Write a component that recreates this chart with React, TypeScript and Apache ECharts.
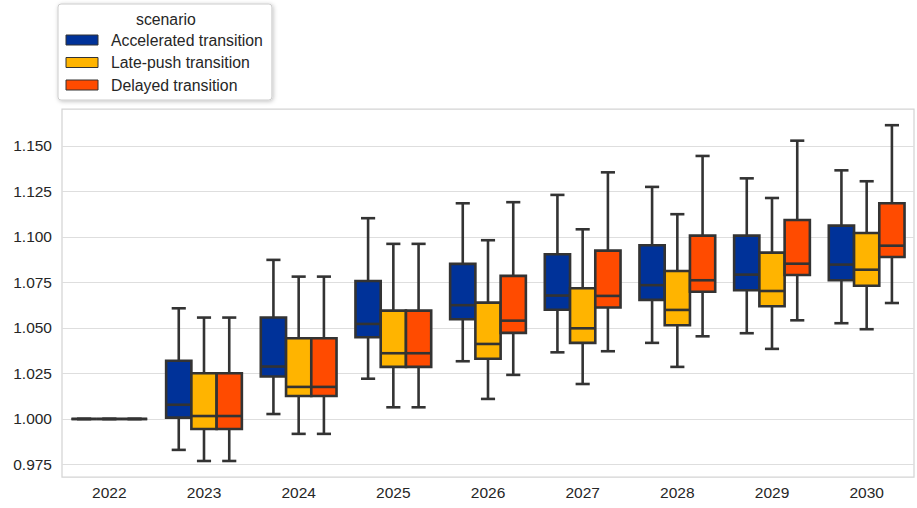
import React, { useEffect, useRef } from "react";
import * as echarts from "echarts";

const years = ["2022", "2023", "2024", "2025", "2026", "2027", "2028", "2029", "2030"];
const scenarios = ["Accelerated transition", "Late-push transition", "Delayed transition"];
const colors = ["#003299", "#FFB400", "#FF4B00"];

// [whiskerLow, Q1, median, Q3, whiskerHigh]
const accelerated = [
  [1.0, 1.0, 1.0, 1.0, 1.0],
  [0.983, 1.0007, 1.0078, 1.032, 1.0608],
  [1.0027, 1.0233, 1.0288, 1.0557, 1.0874],
  [1.0221, 1.0449, 1.0522, 1.0758, 1.1103],
  [1.0317, 1.0548, 1.0625, 1.0852, 1.1185],
  [1.0366, 1.06, 1.0678, 1.0905, 1.1231],
  [1.0418, 1.0654, 1.0735, 1.0954, 1.1275],
  [1.0471, 1.0707, 1.0793, 1.1007, 1.1322],
  [1.0526, 1.0762, 1.0848, 1.1062, 1.1366],
];
const latePush = [
  [1.0, 1.0, 1.0, 1.0, 1.0],
  [0.9769, 0.9945, 1.0016, 1.0251, 1.0557],
  [0.9918, 1.0126, 1.0176, 1.0443, 1.0782],
  [1.0064, 1.0286, 1.0361, 1.0595, 1.0962],
  [1.011, 1.0331, 1.0412, 1.0639, 1.0982],
  [1.0192, 1.0418, 1.0498, 1.0718, 1.1042],
  [1.0286, 1.0515, 1.0599, 1.0813, 1.1125],
  [1.0385, 1.0619, 1.0703, 1.0914, 1.1214],
  [1.0493, 1.0732, 1.082, 1.1022, 1.1306],
];
const delayed = [
  [1.0, 1.0, 1.0, 1.0, 1.0],
  [0.9769, 0.9945, 1.0016, 1.0251, 1.0557],
  [0.9918, 1.0126, 1.0176, 1.0443, 1.0782],
  [1.0064, 1.0286, 1.0361, 1.0595, 1.0962],
  [1.0242, 1.0473, 1.054, 1.0786, 1.1191],
  [1.0372, 1.0612, 1.0676, 1.0925, 1.1355],
  [1.0454, 1.0699, 1.0762, 1.1007, 1.1445],
  [1.0542, 1.0791, 1.0853, 1.1093, 1.1529],
  [1.0637, 1.089, 1.0952, 1.1185, 1.1614],
];
const yTicks = [0.975, 1.0, 1.025, 1.05, 1.075, 1.1, 1.125, 1.15];

const FONT = "'Liberation Sans', Arial, sans-serif";
const LINE = "#333333";
const LW = 2.6;

export default function App() {
  const ref = useRef<HTMLDivElement>(null);
  useEffect(() => {
    if (!ref.current) return;
    const chart = echarts.init(ref.current, null, { renderer: "svg" });
    const allSeries = [accelerated, latePush, delayed];
    const series = allSeries.map((vals, sIdx) => ({
      type: "custom",
      name: scenarios[sIdx],
      itemStyle: { color: colors[sIdx] },
      encode: { x: 0, y: [1, 2, 3, 4, 5] },
      data: vals.map((v, i) => [i, ...v]),
      renderItem: (params: any, api: any) => {
        const cat = api.value(0);
        const band = api.size([1, 0])[0];
        const bw = (band * 0.8) / 3;
        const xc = api.coord([cat, 0])[0] + (sIdx - 1) * bw;
        const yLo = api.coord([cat, api.value(1)])[1];
        const yQ1 = api.coord([cat, api.value(2)])[1];
        const yMed = api.coord([cat, api.value(3)])[1];
        const yQ3 = api.coord([cat, api.value(4)])[1];
        const yHi = api.coord([cat, api.value(5)])[1];
        const x0 = xc - bw / 2;
        const cap = bw * 0.28;
        const ls = { stroke: LINE, lineWidth: LW };
        return {
          type: "group",
          children: [
            { type: "line", shape: { x1: xc, y1: yLo, x2: xc, y2: yQ1 }, style: ls },
            { type: "line", shape: { x1: xc, y1: yQ3, x2: xc, y2: yHi }, style: ls },
            { type: "line", shape: { x1: xc - cap, y1: yLo, x2: xc + cap, y2: yLo }, style: ls },
            { type: "line", shape: { x1: xc - cap, y1: yHi, x2: xc + cap, y2: yHi }, style: ls },
            {
              type: "rect",
              shape: { x: x0, y: yQ3, width: bw, height: yQ1 - yQ3 },
              style: { fill: colors[sIdx], stroke: LINE, lineWidth: LW },
            },
            { type: "line", shape: { x1: x0, y1: yMed, x2: x0 + bw, y2: yMed }, style: ls },
          ],
        };
      },
    }));

    chart.setOption({
      animation: false,
      backgroundColor: "#ffffff",
      grid: {
        left: 62,
        right: 3,
        top: 109,
        bottom: 31,
        show: true,
        borderColor: "#d4d4d4",
        borderWidth: 1.25,
        backgroundColor: "transparent",
      },
      xAxis: {
        type: "category",
        data: years,
        axisLine: { show: false },
        axisTick: { show: false },
        splitLine: { show: false },
        axisLabel: { fontSize: 15.5, fontFamily: FONT, color: "#262626", margin: 7 },
      },
      yAxis: {
        type: "value",
        min: 0.9681,
        max: 1.1703,
        axisLine: { show: false },
        axisTick: { show: false, customValues: yTicks },
        splitLine: { show: true, lineStyle: { color: "#dedede", width: 1 } },
        axisLabel: {
          customValues: yTicks,
          fontSize: 15.5,
          fontFamily: FONT,
          color: "#262626",
          margin: 10,
          formatter: (v: number) => v.toFixed(3),
        },
      },
      legend: {
        orient: "vertical",
        left: 58,
        top: 4,
        data: scenarios,
        icon: "rect",
        itemWidth: 32,
        itemHeight: 10,
        itemGap: 6.5,
        padding: [28, 9, 7, 7.5],
        itemStyle: { borderColor: "#333333", borderWidth: 1 },
        textStyle: { fontSize: 15.8, fontFamily: FONT, color: "#262626", lineHeight: 16, padding: [0, 0, 0, 8] },
        backgroundColor: "#ffffff",
        borderColor: "#cccccc",
        borderWidth: 1,
        borderRadius: 3,
        shadowBlur: 4,
        shadowColor: "rgba(0,0,0,0.25)",
        shadowOffsetX: 1,
        shadowOffsetY: 1,
        selectedMode: false,
      },
      graphic: [
        {
          type: "text",
          left: 136,
          top: 11,
          z: 100,
          style: { text: "scenario", fontSize: 15.8, fontFamily: FONT, fill: "#262626" },
        },
      ],
      series,
    });
    return () => chart.dispose();
  }, []);
  return (
    <div
      ref={ref}
      style={{ position: "fixed", left: 0, top: 0, width: 917, height: 508 }}
    />
  );
}
